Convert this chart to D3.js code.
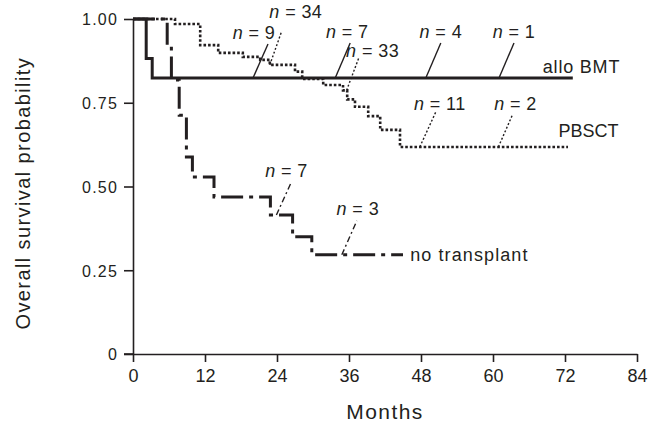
<!DOCTYPE html>
<html><head><meta charset="utf-8">
<script src="https://cdn.jsdelivr.net/npm/d3@7"></script>
<style>
html,body{margin:0;padding:0;background:#fff;}
svg{display:block;}
text{font-family:"Liberation Sans",Arial,Helvetica,sans-serif;fill:#231f20;}
</style></head>
<body>
<svg id="chart" width="648" height="428"></svg>
<script>
// ---- data ----
const xTickValues = [0, 12, 24, 36, 48, 60, 72, 84];
const xTickLabels = ["0", "12", "24", "36", "48", "60", "72", "84"];
const yTickValues = [0, 0.25, 0.5, 0.75, 1.0];
const yTickLabels = ["0", "0.25", "0.50", "0.75", "1.00"];

const seriesNames = ["allo BMT", "PBSCT", "no transplant"];

const alloTimes = [0, 2.2, 3.2];
const alloSurv  = [1.0, 0.882, 0.824];
const alloEnd   = 73.3;

const pbsctTimes = [0, 7.0, 11.2, 14.2, 18.3, 21.2, 22.8, 27.0, 28.2, 31.7, 35.0, 35.7, 37.0, 39.2, 41.2, 44.5];
const pbsctSurv  = [1.0, 0.985, 0.922, 0.899, 0.887, 0.878, 0.863, 0.843, 0.821, 0.803, 0.787, 0.760, 0.738, 0.710, 0.669, 0.618];
const pbsctEnd   = 72.5;

const noTxTimes = [0, 5.7, 6.4, 7.7, 8.9, 9.9, 13.5, 22.9, 26.6, 29.8];
const noTxSurv  = [1.0, 0.913, 0.818, 0.713, 0.588, 0.528, 0.469, 0.415, 0.350, 0.296];
const noTxEnd   = 45.0;

// numbers at risk annotations: series index, month where leader meets curve, label
const annSeries = [0, 0, 0, 0, 1, 1, 1, 1, 2, 2];
const annMonths = [20.0, 33.7, 48.8, 61.0, 22.8, 35.6, 47.8, 60.9, 23.9, 34.8];
const annN      = [9, 7, 4, 1, 34, 33, 11, 2, 7, 3];

// ---- layout ----
const svg = d3.select("#chart");
const x = d3.scaleLinear().domain([0, 84]).range([133, 637]);
const y = d3.scaleLinear().domain([0, 1]).range([354, 19]);

const styles = [
  {width: 3, dash: null, leadDash: null},
  {width: 2.6, dash: "2.6,2", leadDash: "2,2"},
  {width: 3, dash: "22,6,4,6", leadDash: "6,3,2,3"}
];
// leader offsets (px) and label offsets relative to leader top
const leadDx = [15, 15, 15, 15, 12, 12, 16, 14, 15, 15];
const leadDy = [-34, -35, -35, -35, -34, -32, -35, -32, -33, -34];
const labDx  = [-14, -3, 0, 0, 14, 14, 4, 3, -5, 1];
const labDy  = [-5, -5, -5, -5, -13, -1, -2, -5, -5, -6];

const times = [alloTimes, pbsctTimes, noTxTimes];
const survs = [alloSurv, pbsctSurv, noTxSurv];
const ends  = [alloEnd, pbsctEnd, noTxEnd];

function stepPoints(i) {
  const pts = times[i].map((t, k) => [t, survs[i][k]]);
  pts.push([ends[i], survs[i][survs[i].length - 1]]);
  return pts;
}
function survAt(i, m) {
  let s = survs[i][0];
  times[i].forEach((t, k) => { if (t <= m) s = survs[i][k]; });
  return s;
}

// axes
const yAxis = d3.axisLeft(y).tickValues(yTickValues)
  .tickFormat((d, k) => yTickLabels[k]).tickSize(9).tickSizeOuter(0).tickPadding(6);
const gy = svg.append("g").attr("transform", "translate(133,0)").call(yAxis);
const xAxis = d3.axisBottom(x).tickValues(xTickValues)
  .tickFormat((d, k) => xTickLabels[k]).tickSize(8).tickSizeOuter(0).tickPadding(7);
const gx = svg.append("g").attr("transform", "translate(0,354)").call(xAxis);
[gx, gy].forEach(g => {
  g.select(".domain").attr("stroke", "#231f20").attr("stroke-width", 1.6);
  g.selectAll(".tick line").attr("stroke", "#231f20").attr("stroke-width", 1.6);
  g.selectAll(".tick text").attr("fill", "#231f20");
});
gy.selectAll(".tick text").style("font-size", "16px").style("letter-spacing", "1.2px").attr("dy", "0.36em");
gx.selectAll(".tick text").style("font-family", "'Liberation Sans Narrow','Liberation Sans',Arial,sans-serif")
  .style("font-size", "18px");
// extend x domain line to y-axis tick length
gx.append("line").attr("x1", 133 - 9).attr("x2", 133).attr("y1", 0).attr("y2", 0)
  .attr("stroke", "#231f20").attr("stroke-width", 1.6);

// curves
const line = d3.line().x(d => x(d[0])).y(d => y(d[1])).curve(d3.curveStepAfter);
[2, 1, 0].forEach(i => {
  svg.append("path").attr("d", line(stepPoints(i)))
    .attr("fill", "none").attr("stroke", "#231f20")
    .attr("stroke-width", styles[i].width)
    .attr("stroke-dasharray", styles[i].dash);
});

// annotations
annMonths.forEach((m, k) => {
  const i = annSeries[k];
  const bx = x(m), by = y(survAt(i, m));
  const tx = bx + leadDx[k], ty = by + leadDy[k];
  svg.append("line").attr("x1", bx).attr("y1", by).attr("x2", tx).attr("y2", ty)
    .attr("stroke", "#231f20").attr("stroke-width", 1.4)
    .attr("stroke-dasharray", styles[i].leadDash);
  const t = svg.append("text").attr("x", tx + labDx[k]).attr("y", ty + labDy[k])
    .attr("text-anchor", "middle").style("font-size", "18px").style("letter-spacing", "0.4px");
  t.append("tspan").style("font-style", "italic").text("n");
  t.append("tspan").text(" = " + annN[k]);
});

// series labels
const nameX = [alloEnd - 5.0, pbsctEnd - 1.6, noTxEnd + 1.2];
svg.append("text").attr("x", x(nameX[0])).attr("y", y(alloSurv[2]) - 5)
  .style("font-size", "18px").style("letter-spacing", "0.8px").text(seriesNames[0]);
svg.append("text").attr("x", x(nameX[1])).attr("y", y(pbsctSurv[pbsctSurv.length-1]) - 10)
  .style("font-size", "18px").style("letter-spacing", "0px").text(seriesNames[1]);
svg.append("text").attr("x", x(nameX[2])).attr("y", y(noTxSurv[noTxSurv.length-1]) + 6)
  .style("font-size", "18px").style("letter-spacing", "1.1px").text(seriesNames[2]);

// axis titles
svg.append("text").attr("x", x(42)).attr("y", 419).attr("text-anchor", "middle")
  .style("font-size", "21px").style("letter-spacing", "1.4px").text("Months");
svg.append("text").attr("transform", "translate(30," + y(0.48) + ") rotate(-90)")
  .attr("text-anchor", "middle").style("font-size", "20px").style("letter-spacing", "1.4px")
  .text("Overall survival probability");
</script>
</body></html>
